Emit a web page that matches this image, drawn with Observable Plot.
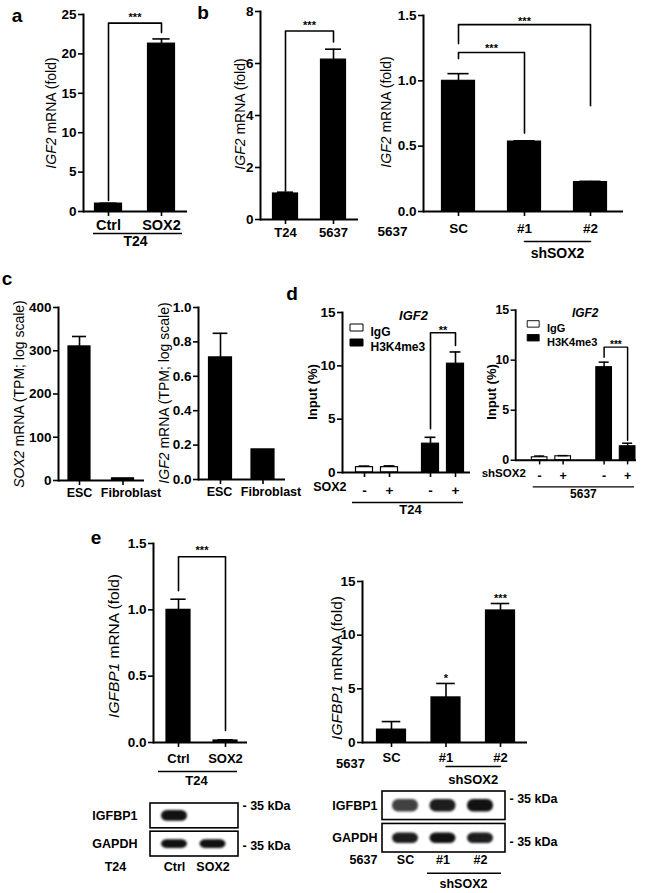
<!DOCTYPE html>
<html><head><meta charset="utf-8">
<script src="https://cdn.jsdelivr.net/npm/d3@7"></script>
<script src="https://cdn.jsdelivr.net/npm/@observablehq/plot@0.6"></script>
<style>
body{margin:0;background:#fff;}
#fig{position:relative;width:658px;height:893px;overflow:hidden;background:#fff;font-family:"Liberation Sans",Arial,Helvetica,sans-serif;color:#000;}
.pl{position:absolute;}
.ylab{position:absolute;writing-mode:vertical-rl;transform:translate(-50%,-50%) rotate(180deg);font-size:14px;white-space:nowrap;line-height:1;}
.letter{position:absolute;transform:translate(-50%,-50%);font-weight:bold;font-size:19px;line-height:1;}
</style></head><body><div id="fig"></div>
<script>
// ---------------- data ----------------
// Panel a
const aCats = ["Ctrl", "SOX2"];
const aValues = [1.0, 21.3];
const aErrors = [0.05, 0.6];
const aGroup = "T24";
// Panel b (left)
const bCats = ["T24", "5637"];
const bValues = [1.0, 6.15];
const bErrors = [0.05, 0.4];
// Panel b (right)
const b2Cats = ["SC", "#1", "#2"];
const b2Values = [1.0, 0.535, 0.225];
const b2Errors = [0.055, 0.006, 0.006];
const b2Line = "5637";
const b2Group = "shSOX2";
const b2Sub = ["#1", "#2"];
// Panel c
const cCats = ["ESC", "Fibroblast"];
const cSox2 = [310, 5];
const cSox2Err = [23, 0];
const cIgf2 = [0.71, 0.175];
const cIgf2Err = [0.14, 0];
// Panel d
const dTitle = "IGF2";
const dAntibodies = ["IgG", "H3K4me3"];
const dConds = ["-", "+"];
const dT24 = [0.5, 0.5, 2.7, 10.2];
const dT24Err = [0.1, 0.12, 0.6, 1.1];
const d5637 = [0.3, 0.4, 9.3, 1.4];
const d5637Err = [0.12, 0.06, 0.5, 0.3];
// Panel e
const eCats = ["Ctrl", "SOX2"];
const eValues = [1.0, 0.015];
const eErrors = [0.08, 0.005];
const e2Cats = ["SC", "#1", "#2"];
const e2Values = [1.2, 4.2, 12.3];
const e2Errors = [0.75, 1.3, 0.65];
// Western blots (relative band intensity, rows x lanes)
const blotRows = ["IGFBP1", "GAPDH"];
const blotT24Lanes = ["Ctrl", "SOX2"];
const blotT24 = [[1.0, 0.0], [1.0, 1.0]];
const blot5637Lanes = ["SC", "#1", "#2"];
const blot5637 = [[0.8, 0.95, 1.0], [0.95, 1.0, 0.95]];
const kDa = "- 35 kDa";

// ---------------- helpers ----------------
const FONT = '"Liberation Sans", Arial, Helvetica, sans-serif';
const fig = document.getElementById("fig");
function put(node, left, top) {
  const w = document.createElement("div");
  w.className = "pl"; w.style.left = left + "px"; w.style.top = top + "px";
  w.appendChild(node); fig.appendChild(w);
}
function html(cls, inner, cx, cy, css) {
  const d = document.createElement("div");
  d.className = cls; d.innerHTML = inner;
  d.style.left = cx + "px"; d.style.top = cy + "px";
  if (css) d.style.cssText += css;
  fig.appendChild(d);
}
function bandParams(n, L, R, c0, step, bw) {
  const W = R - L;
  const pi = 1 - bw / step;
  const po = Math.max(0, (W / step - n + pi) / 2);
  const leftover = W - step * (n - pi);
  const align = leftover > 0 ? Math.max(0, Math.min(1, (c0 - bw / 2 - L) / leftover)) : 0.5;
  return {paddingInner: pi, paddingOuter: po, align};
}
const baseStyle = {fontFamily: FONT, fontSize: "13.5px", fontWeight: "bold", background: "transparent", overflow: "visible", color: "black"};
const rectSymbol = {draw(ctx) { ctx.moveTo(-6.5, -3.5); ctx.lineTo(6.5, -3.5); ctx.lineTo(6.5, 3.5); ctx.lineTo(-6.5, 3.5); ctx.closePath(); }};
const seriesFill = ["white", "black"];

function legendMarks(dx, dy0, step, textDx) {
  return dAntibodies.flatMap((name, i) => [
    Plot.dot([name], {frameAnchor: "top-left", dx, dy: dy0 + i * step, symbol: rectSymbol, r: 5, fill: seriesFill[i], stroke: "black", strokeWidth: 1}),
    Plot.text([name], {frameAnchor: "top-left", dx: textDx, dy: dy0 + i * step, textAnchor: "start", fontSize: 12})
  ]);
}

function barPanel(o) {
  const ml = 48, mr = 24, mt = 30, mb = 80;
  const W = o.R - o.L, H = o.Z - o.T;
  const xp = bandParams(o.cats.length, o.L, o.R, o.c0, o.step, o.bw);
  const rows = o.cats.map((c, i) => ({
    cat: c, value: o.values[i], err: o.errors[i],
    fill: o.fills ? o.fills[i] : "black",
    dx: o.shift ? o.shift[i] : 0,
    ldx: o.labelDx ? o.labelDx[i] : 0,
    label: o.tickLabels ? o.tickLabels[i] : c
  }));
  const marks = [];
  for (const [, g] of d3.groups(rows, d => d.dx + "|" + d.fill)) {
    const dx = g[0].dx, fill = g[0].fill;
    const withErr = g.filter(d => d.err > 0);
    marks.push(
      Plot.barY(g, {x: "cat", y: "value", fill, stroke: "black", strokeWidth: 1.2, dx}),
      Plot.ruleX(withErr, {x: "cat", y1: "value", y2: d => d.value + d.err, stroke: "black", strokeWidth: 1.6, dx}),
      Plot.tickY(withErr, {x: "cat", y: d => d.value + d.err, stroke: "black", strokeWidth: 1.6, insetLeft: o.bw * 0.18, insetRight: o.bw * 0.18, dx}),
      Plot.ruleX(g, {x: "cat", y1: 0, y2: 0, insetBottom: -5, stroke: "black", strokeWidth: 1.6, dx})
    );
    for (const [, h] of d3.groups(g, d => d.ldx)) {
      marks.push(Plot.text(h, {x: "cat", y: 0, text: "label", dy: o.labelDy, fontSize: o.labelSize, dx: dx + h[0].ldx}));
    }
  }
  const idx = c => o.cats.indexOf(c);
  for (const b of (o.brackets || [])) {
    const bdx = b.dx || 0;
    const pts = [[b.from, b.y1], [b.from, b.y], [b.to, b.y], [b.to, b.y2]];
    marks.push(
      Plot.line(pts, {x: d => d[0], y: d => d[1], stroke: "black", strokeWidth: 1.6, dx: bdx}),
      Plot.text([b], {x: "from", y: "y", text: "label", dx: bdx + (idx(b.to) - idx(b.from)) * o.step / 2, dy: b.dy, fontSize: 11})
    );
  }
  marks.push(
    Plot.axisY({ticks: o.yTicks, tickFormat: o.yFormat || (d => String(d)), tickSize: 5, tickPadding: 2, strokeWidth: 1.6, label: null}),
    Plot.frame({anchor: "left", strokeWidth: 2}),
    Plot.ruleY([0], {strokeWidth: 2})
  );
  if (o.extra) marks.push(...o.extra(o));
  const svg = Plot.plot({
    width: W + ml + mr, height: H + mt + mb,
    marginLeft: ml, marginRight: mr, marginTop: mt, marginBottom: mb,
    style: baseStyle,
    x: {type: "band", domain: o.cats, ...xp, round: false, axis: null},
    y: {domain: o.yDomain},
    marks
  });
  put(svg, o.L - ml, o.T - mt);
}

function blotPanel(o) {
  const ml = 90, mr = 70, mt = 10, mb = 50;
  const W = o.R - o.L, H = o.B - o.T;
  const xp = bandParams(o.lanes.length, o.L, o.R, o.c0, o.step, o.bw);
  const bands = [];
  o.rows.forEach((r, i) => o.lanes.forEach((l, j) => bands.push({row: r, lane: l, v: o.intensity[i][j]})));
  const fs = 12.5;
  const marks = [
    Plot.cell(o.rows, {y: d => d, fill: "white", stroke: "black", strokeWidth: 1.6}),
    ...o.rows.map((r, i) => Plot.cell(bands.filter(d => d.row === r && d.v > 0), {
      x: "lane", y: "row", fill: "#111", fillOpacity: "v",
      insetTop: o.insets[i], insetBottom: o.insets[i], insetLeft: 2, insetRight: 2, rx: 6,
      imageFilter: "blur(1.3px)"
    })),
    Plot.text(o.rows, {y: d => d, frameAnchor: "left", dx: o.rowLabelDx, textAnchor: "end", fontSize: fs}),
    ...o.rows.map((r, i) => Plot.text([kDa], {y: () => r, frameAnchor: "right", dx: 4, dy: o.kdaDy[i], textAnchor: "start", fontSize: fs})),
    Plot.text(o.lanes, {x: d => d, frameAnchor: "bottom", dy: o.laneDy, fontSize: fs}),
    Plot.text([o.cellLine], {frameAnchor: "bottom-left", textAnchor: "middle", dx: o.cellDx, dy: o.laneDy, fontSize: fs})
  ];
  if (o.extra) marks.push(...o.extra(o));
  const svg = Plot.plot({
    width: W + ml + mr, height: H + mt + mb,
    marginLeft: ml, marginRight: mr, marginTop: mt, marginBottom: mb,
    style: baseStyle,
    x: {type: "band", domain: o.lanes, ...xp, round: false, axis: null},
    y: {type: "band", domain: o.rows, paddingInner: 0.12, paddingOuter: 0, round: false, axis: null},
    marks
  });
  put(svg, o.L - ml, o.T - mt);
}

// ---------------- panels ----------------
// a
barPanel({
  cats: aCats, values: aValues, errors: aErrors,
  L: 83, R: 187, T: 14, Z: 211, c0: 108, step: 53, bw: 27,
  yDomain: [0, 25], yTicks: [0, 5, 10, 15, 20, 25],
  labelDy: 14, labelSize: 14.5,
  brackets: [{from: "Ctrl", to: "SOX2", y: 23.9, y1: 1.4, y2: 22.7, label: "***", dy: -6}],
  extra: () => [
    Plot.ruleY([0], {dy: 22, insetLeft: 10, insetRight: 5, strokeWidth: 1.6}),
    Plot.text([aGroup], {frameAnchor: "bottom", dy: 34, fontSize: 14})
  ]
});
// b left
barPanel({
  cats: bCats, values: bValues, errors: bErrors,
  L: 260, R: 358, T: 11, Z: 219, c0: 285, step: 48, bw: 25,
  yDomain: [0, 8], yTicks: [0, 2, 4, 6, 8],
  labelDy: 13, labelSize: 13,
  brackets: [{from: "T24", to: "5637", y: 7.25, y1: 1.1, y2: 6.83, label: "***", dy: -6}]
});
// b right
barPanel({
  cats: b2Cats, values: b2Values, errors: b2Errors,
  L: 423, R: 623, T: 15, Z: 211, c0: 458, step: 66, bw: 33,
  yDomain: [0, 1.5], yTicks: [0, 0.5, 1, 1.5], yFormat: d3.format(".1f"),
  labelDy: 17, labelSize: 13.5,
  brackets: [
    {from: "SC", to: "#2", y: 1.43, y1: 1.285, y2: 0.81, label: "***", dy: -3},
    {from: "SC", to: "#1", y: 1.217, y1: 1.17, y2: 0.6, label: "***", dy: -4}
  ],
  extra: (o) => [
    Plot.text([b2Line], {frameAnchor: "bottom-left", textAnchor: "middle", dx: -31, dy: 24, fontSize: 13.5}),
    Plot.line(b2Sub, {x: d => d, y: () => 0, dy: 30, strokeWidth: 1.6}),
    Plot.text([b2Group], {x: () => b2Sub[0], y: () => 0, dx: o.step / 2, dy: 42, fontSize: 14})
  ]
});
// c left
barPanel({
  cats: cCats, values: cSox2, errors: cSox2Err, labelDx: [0, 8],
  L: 58, R: 144, T: 307, Z: 480, c0: 79, step: 43.5, bw: 22,
  yDomain: [0, 400], yTicks: [0, 100, 200, 300, 400],
  labelDy: 12, labelSize: 12.5
});
// c right
barPanel({
  cats: cCats, values: cIgf2, errors: cIgf2Err, labelDx: [-1, 8],
  L: 198, R: 285, T: 307, Z: 479, c0: 220, step: 42.5, bw: 23,
  yDomain: [0, 1], yTicks: [0, 0.2, 0.4, 0.6, 0.8, 1.0], yFormat: d3.format(".1f"),
  labelDy: 12, labelSize: 12.5
});
// d
const dKeys = dAntibodies.flatMap(a => dConds.map(c => a + "|" + c));
const dTick = dKeys.map(k => k.split("|")[1]);
const dFills = dKeys.map(k => seriesFill[dAntibodies.indexOf(k.split("|")[0])]);
barPanel({
  cats: dKeys, tickLabels: dTick, values: dT24, errors: dT24Err, fills: dFills,
  shift: [-8, -8, 8, 8],
  L: 342, R: 470, T: 312, Z: 472, c0: 372, step: 25, bw: 17,
  yDomain: [0, 15], yTicks: [0, 5, 10, 15],
  labelDy: 18, labelSize: 13.5,
  brackets: [{from: "H3K4me3|-", to: "H3K4me3|+", y: 13.1, y1: 4.1, y2: 11.9, label: "**", dy: -2, dx: 8}],
  extra: () => [
    ...legendMarks(14, 15, 15, 28),
    Plot.text([dTitle], {frameAnchor: "top", dx: 7, dy: -2, fontStyle: "italic", fontSize: 13}),
    Plot.text(["SOX2"], {frameAnchor: "bottom-left", textAnchor: "end", dx: 4, dy: 18, fontSize: 12.5}),
    Plot.ruleY([0], {dy: 30, insetLeft: 10, insetRight: 7, strokeWidth: 1.4}),
    Plot.text(["T24"], {frameAnchor: "bottom", dx: 4, dy: 41, fontSize: 13})
  ]
});
barPanel({
  cats: dKeys, tickLabels: dTick, values: d5637, errors: d5637Err, fills: dFills,
  shift: [-9.5, -9.5, 9.5, 9.5],
  L: 519, R: 650, T: 312, Z: 475, c0: 554.5, step: 25.5, bw: 17,
  yDomain: [0, 15], yTicks: [0, 5, 10, 15],
  labelDy: 17, labelSize: 13.5,
  brackets: [{from: "H3K4me3|-", to: "H3K4me3|+", y: 11.3, y1: 10.3, y2: 2.0, label: "***", dy: -3, dx: 9.5}],
  extra: () => [
    ...legendMarks(19, 15, 15, 34),
    Plot.text([dTitle], {frameAnchor: "top", dx: 10, dy: -2, fontStyle: "italic", fontSize: 13}),
    Plot.text(["shSOX2"], {frameAnchor: "bottom-left", textAnchor: "end", dx: 11, dy: 18, fontSize: 12.5}),
    Plot.ruleY([0], {dy: 29, insetLeft: 19, insetRight: 2, strokeWidth: 1.4}),
    Plot.text(["5637"], {frameAnchor: "bottom", dx: 8, dy: 41, fontSize: 13})
  ]
});
// e left
barPanel({
  cats: eCats, values: eValues, errors: eErrors,
  L: 153, R: 247, T: 543, Z: 742, c0: 178, step: 47, bw: 24,
  yDomain: [0, 1.5], yTicks: [0, 0.5, 1, 1.5], yFormat: d3.format(".1f"),
  labelDy: 16, labelSize: 13,
  brackets: [{from: "Ctrl", to: "SOX2", y: 1.40, y1: 1.145, y2: 0.09, label: "***", dy: -6}],
  extra: () => [
    Plot.ruleY([0], {dy: 29, insetLeft: 5, insetRight: 10, strokeWidth: 1.4}),
    Plot.text(["T24"], {frameAnchor: "bottom", dx: -4, dy: 42, fontSize: 13})
  ]
});
// e right
barPanel({
  cats: e2Cats, values: e2Values, errors: e2Errors,
  L: 362, R: 527, T: 581, Z: 742, c0: 391, step: 54.5, bw: 29,
  yDomain: [0, 15], yTicks: [0, 5, 10, 15],
  labelDy: 15, labelSize: 13,
  extra: (o) => [
    Plot.text([{cat: "#1", label: "*", y: e2Values[1] + e2Errors[1]}, {cat: "#2", label: "***", y: e2Values[2] + e2Errors[2]}],
      {x: "cat", y: "y", text: "label", dy: -5, fontSize: 11}),
    Plot.text(["5637"], {frameAnchor: "bottom-left", textAnchor: "middle", dx: -12, dy: 25, fontSize: 13}),
    Plot.line(b2Sub, {x: d => d, y: () => 0, dy: 24, strokeWidth: 1.4}),
    Plot.text(["shSOX2"], {x: () => b2Sub[0], y: () => 0, dx: o.step / 2, dy: 37, fontSize: 13})
  ]
});
// blots
blotPanel({
  rows: blotRows, lanes: blotT24Lanes, intensity: blotT24,
  L: 150, R: 238, T: 803, B: 856, c0: 174, step: 38.5, bw: 30,
  insets: [7, 8], laneDy: 14, kdaDy: [-9.5, 1.5], rowLabelDx: -13,
  cellLine: "T24", cellDx: -35
});
blotPanel({
  rows: blotRows, lanes: blot5637Lanes, intensity: blot5637,
  L: 382, R: 505, T: 791, B: 852, c0: 405, step: 37.5, bw: 30,
  insets: [8, 9], laneDy: 11, kdaDy: [-7, 4], rowLabelDx: -5,
  cellLine: "5637", cellDx: -19,
  extra: () => [
    Plot.ruleY([blotRows[1]], {y: d => d, dy: 35, insetLeft: 45, insetRight: 4, strokeWidth: 1.4}),
    Plot.text(["shSOX2"], {frameAnchor: "bottom", dx: 19.5, dy: 35, fontSize: 12.5})
  ]
});

// ---------------- html labels ----------------
html("ylab", "<i>IGF2</i> mRNA (fold)", 51, 113);
html("ylab", "<i>IGF2</i> mRNA (fold)", 240, 114);
html("ylab", "<i>IGF2</i> mRNA (fold)", 386, 112);
html("ylab", "<i>SOX2</i> mRNA (TPM; log scale)", 19, 394);
html("ylab", "<i>IGF2</i> mRNA (TPM; log scale)", 164, 393);
html("ylab", "Input (%)", 312, 392, "font-weight:bold;font-size:13px;");
html("ylab", "Input (%)", 491, 392, "font-weight:bold;font-size:13px;");
html("ylab", "<i>IGFBP1</i> mRNA (fold)", 114, 646, "font-size:15.5px;");
html("ylab", "<i>IGFBP1</i> mRNA (fold)", 337, 668, "font-size:15.5px;");
html("letter", "a", 17, 15);
html("letter", "b", 203, 12);
html("letter", "c", 7, 278);
html("letter", "d", 292, 293);
html("letter", "e", 96, 537);
</script></body></html>
